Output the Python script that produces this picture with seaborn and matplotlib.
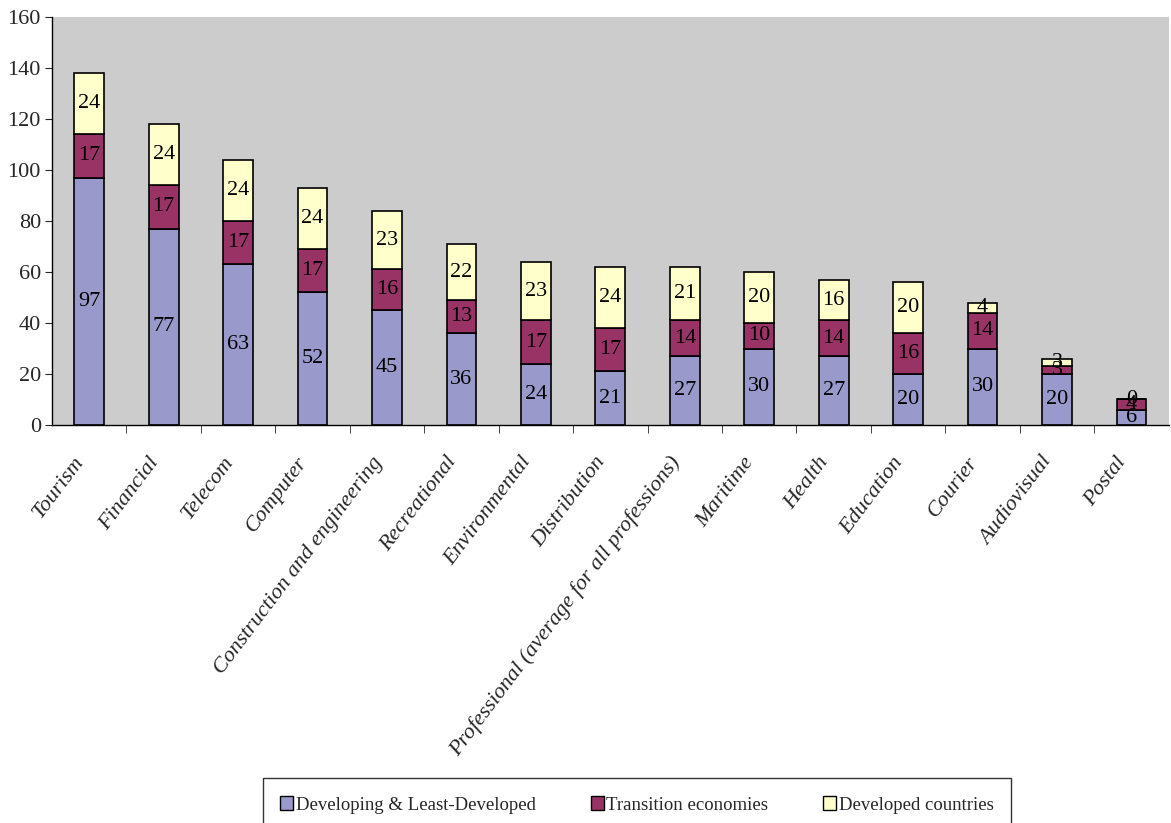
import matplotlib
matplotlib.use("Agg")
import matplotlib.pyplot as plt
import matplotlib.transforms as mtransforms
import seaborn as sns
import numpy as np
from matplotlib.ticker import FixedLocator, NullFormatter
from matplotlib.patches import Patch

categories = ["Tourism", "Financial", "Telecom", "Computer",
              "Construction and engineering", "Recreational", "Environmental",
              "Distribution", "Professional (average for all professions)",
              "Maritime", "Health", "Education", "Courier", "Audiovisual", "Postal"]
developing = [97, 77, 63, 52, 45, 36, 24, 21, 27, 30, 27, 20, 30, 20, 6]
transition = [17, 17, 17, 17, 16, 13, 17, 17, 14, 10, 14, 16, 14, 3, 4]
developed = [24, 24, 24, 24, 23, 22, 23, 24, 21, 20, 16, 20, 4, 3, 0]

series_names = ["Developing & Least-Developed", "Transition economies", "Developed countries"]
colors = ["#9999cc", "#993366", "#ffffcc"]

sns.set_style("white")
plt.rcParams["font.family"] = ["Liberation Serif", "DejaVu Serif"]

fig = plt.figure(figsize=(11.71, 8.23), dpi=100)
ax = fig.add_axes([0.0444, 0.4836, 0.9536, 0.4957])
ax.set_facecolor("#cccccc")

# barres empilées, une série après l'autre
bottom = np.zeros(len(categories))
for name, vals, col in zip(series_names, [developing, transition, developed], colors):
    sns.barplot(x=categories, y=vals, bottom=bottom, color=col, edgecolor="black",
                linewidth=1.2, width=0.4, ax=ax, saturation=1)
    ax.bar_label(ax.containers[-1], labels=[str(v) for v in vals],
                 label_type="center", fontsize=16, color="black")
    bottom = bottom + np.array(vals)

ax.set_ylim(0, 160)
ax.set_xlim(-0.5, len(categories) - 0.5)
ax.set_yticks(range(0, 161, 20))
ax.tick_params(axis="y", labelsize=16, length=5, direction="out", left=True, pad=3)
ax.tick_params(axis="x", which="major", length=0, pad=8)
ax.xaxis.set_minor_locator(FixedLocator(np.arange(0.5, len(categories) - 0.5, 1)))
ax.xaxis.set_minor_formatter(NullFormatter())
ax.tick_params(axis="x", which="minor", length=6, direction="out", bottom=True)
ax.set_xticks(range(len(categories)))
ax.set_xticklabels(categories, rotation=53, ha="right", rotation_mode="anchor",
                   fontstyle="italic", fontsize=16)

# décalage des étiquettes (bas-gauche) comme dans l'original
shift = mtransforms.ScaledTranslation(-0.16, -0.17, fig.dpi_scale_trans)
for lab in ax.get_xticklabels():
    lab.set_transform(lab.get_transform() + shift)

for s in ["top", "right"]:
    ax.spines[s].set_visible(False)
for s in ["left", "bottom"]:
    ax.spines[s].set_color("black")
    ax.spines[s].set_linewidth(1)

handles = [Patch(facecolor=c, edgecolor="black", label=n) for n, c in zip(series_names, colors)]
fig.legend(handles=handles, loc="center", bbox_to_anchor=(0.544, 0.022), ncol=3,
           fontsize=13.5, frameon=True, fancybox=False, edgecolor="black",
           handlelength=0.7, handleheight=0.8, handletextpad=0.15, columnspacing=2.9,
           borderpad=0.95)

fig.savefig("out.png", dpi=100)
